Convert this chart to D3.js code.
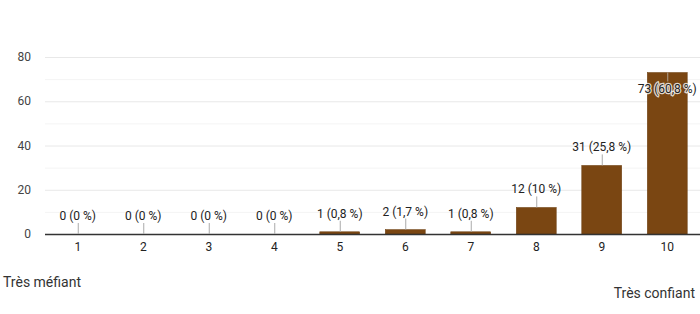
<!DOCTYPE html>
<html><head><meta charset="utf-8">
<script src="https://cdn.jsdelivr.net/npm/d3@7"></script>
<style>body{margin:0;background:#fff;}svg{display:block;font-family:Roboto,Arial,sans-serif;}</style>
</head><body>
<svg id="c" width="700" height="314"></svg>
<script>
const categories = ["1","2","3","4","5","6","7","8","9","10"];
const counts = [0,0,0,0,1,2,1,12,31,73];
const percents = ["0 %","0 %","0 %","0 %","0,8 %","1,7 %","0,8 %","10 %","25,8 %","60,8 %"];
const yTicks = [0,20,40,60,80];
const minorTicks = [10,30,50,70];
const lowLabel = "Très méfiant";
const highLabel = "Très confiant";

const svg = d3.select("#c");
const x = d3.scaleBand().domain(categories).range([45,700]).paddingInner(0.39).paddingOuter(0.195);
const y = d3.scaleLinear().domain([0,80]).range([234,57]);

svg.append("g").selectAll("line").data(minorTicks).join("line")
  .attr("x1",45).attr("x2",700).attr("y1",d=>y(d)+0.5).attr("y2",d=>y(d)+0.5)
  .attr("stroke","#f4f4f4");
svg.append("g").selectAll("line").data(yTicks.filter(d=>d>0)).join("line")
  .attr("x1",45).attr("x2",700).attr("y1",d=>y(d)+0.5).attr("y2",d=>y(d)+0.5)
  .attr("stroke","#e8e8e8");

svg.append("g").selectAll("text").data(yTicks).join("text")
  .attr("x",31).attr("y",d=>y(d)+4).attr("text-anchor","end")
  .attr("font-size",12).attr("fill","#444").text(d=>d);

const data = categories.map((c,i)=>({c, v:counts[i], p:percents[i]}));

svg.append("g").selectAll("rect").data(data).join("rect")
  .attr("x",d=>x(d.c)).attr("width",x.bandwidth())
  .attr("y",d=>y(d.v)).attr("height",d=>y(0)-y(d.v))
  .attr("fill","#7a4612").attr("stroke","#6a3c0e").attr("stroke-width",0.5);

// axis baseline
svg.append("line").attr("x1",45).attr("x2",700).attr("y1",y(0)+0.5).attr("y2",y(0)+0.5)
  .attr("stroke","#333").attr("stroke-width",1.5);

// labels with leader lines
const lab = svg.append("g");
data.forEach(d=>{
  const cx = x(d.c)+x.bandwidth()/2;
  const top = y(d.v);
  const inside = top - 18 < 60;
  let ty, l1, l2;
  if(inside){ ty = top + 21; l1 = top; l2 = top + 9; }
  else { ty = top - 14; l1 = top - 11; l2 = top; }
  lab.append("line").attr("x1",cx+0.5).attr("x2",cx+0.5).attr("y1",l1).attr("y2",l2)
    .attr("stroke", inside ? "#b0a090" : "#aaa").attr("stroke-width",1);
  lab.append("text").attr("x",cx).attr("y",ty).attr("text-anchor","middle")
    .attr("font-size",12).attr("fill","#222")
    .attr("stroke", inside ? "#fff" : "none").attr("stroke-width", inside?2.5:0)
    .attr("stroke-opacity",0.8).attr("paint-order","stroke")
    .text(`${d.v} (${d.p})`);
});

svg.append("g").selectAll("text").data(categories).join("text")
  .attr("x",d=>x(d)+x.bandwidth()/2).attr("y",251).attr("text-anchor","middle")
  .attr("font-size",12).attr("fill","#222").text(d=>d);

svg.append("text").attr("x",3).attr("y",287).attr("font-size",14).attr("fill","#333").text(lowLabel);
svg.append("text").attr("x",695).attr("y",298).attr("text-anchor","end").attr("font-size",14).attr("fill","#333").text(highLabel);
</script>
</body></html>
